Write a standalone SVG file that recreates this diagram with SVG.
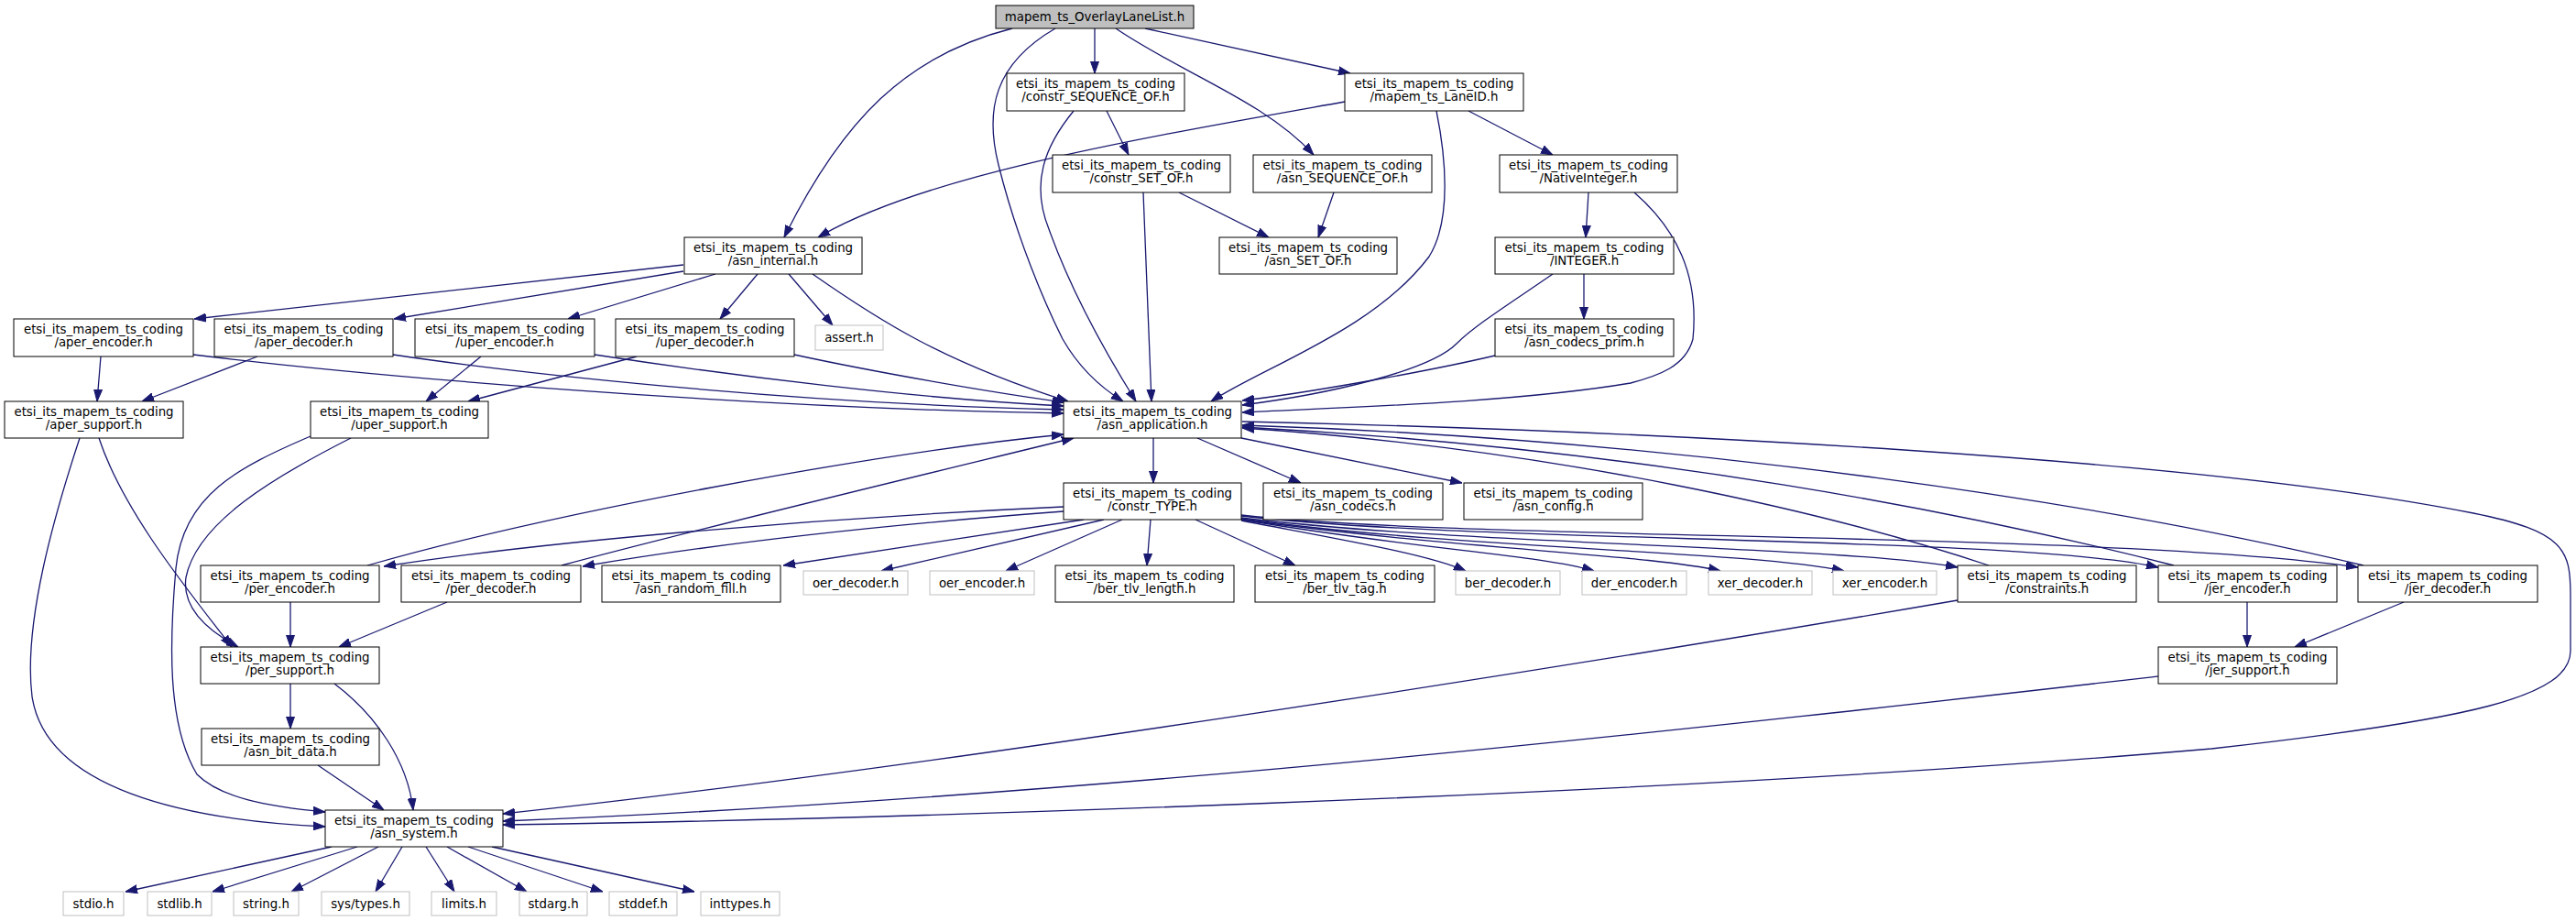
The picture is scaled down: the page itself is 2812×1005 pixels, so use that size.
<svg xmlns="http://www.w3.org/2000/svg" width="2812" height="1005" viewBox="0 0 2812 1005">
<style>
.node rect{fill:#fff;stroke:#000;stroke-width:1}
.ext rect{stroke:#bfbfbf}
.root rect{fill:#bfbfbf}
text{font-family:"DejaVu Sans",sans-serif;font-size:13.33px;text-anchor:middle;fill:#000}
#edges path{fill:none;stroke:#191970;stroke-width:1.3;marker-end:url(#a)}
</style>
<defs>
<marker id="a" markerUnits="userSpaceOnUse" markerWidth="13" markerHeight="10" refX="13" refY="5" orient="auto"><path d="M0,0.5 L13,5 L0,9.5 z" fill="#191970" stroke="#191970" stroke-width="1"/></marker>
</defs>
<rect width="2812" height="1005" fill="#fff"/>
<g id="edges">
<path d="M1195,31 L1195,80"/>
<path d="M1218,31 C1290,80 1380,110 1434,169"/>
<path d="M1250,31 L1474,80"/>
<path d="M1105,31 C990,60 920,130 856,259"/>
<path d="M1152,31 C1085,70 1075,120 1090,180 C1110,260 1140,330 1160,370 C1180,405 1205,425 1226,438"/>
<path d="M1208,121 L1232,169"/>
<path d="M1172,121 C1140,160 1125,200 1145,250 C1170,320 1210,390 1240,438"/>
<path d="M1468,111 C1250,150 1010,190 893,259"/>
<path d="M1603,121 L1695,169"/>
<path d="M1568,121 C1578,170 1585,240 1560,280 C1500,360 1380,400 1322,438"/>
<path d="M1287,210 L1385,259"/>
<path d="M1248,210 L1257,438"/>
<path d="M1456,210 L1439,259"/>
<path d="M1734,210 L1731,259"/>
<path d="M1784,210 C1830,250 1855,300 1848,370 C1840,400 1810,410 1780,418 C1650,440 1450,445 1356,450"/>
<path d="M1729,299 L1729,348"/>
<path d="M1695,299 C1650,330 1610,355 1590,375 C1560,405 1450,430 1356,442"/>
<path d="M1632,388 C1560,405 1420,430 1356,437"/>
<path d="M746,289 L212,348"/>
<path d="M746,296 L430,348"/>
<path d="M781,299 L620,348"/>
<path d="M827,299 L786,348"/>
<path d="M861,299 L909,355"/>
<path d="M887,299 C960,350 1030,395 1166,438"/>
<path d="M110,389 L106,438"/>
<path d="M211,387 C400,410 800,445 1161,451"/>
<path d="M281,389 L155,438"/>
<path d="M429,387 C550,405 850,440 1161,447"/>
<path d="M525,389 L465,438"/>
<path d="M649,387 C800,410 1000,435 1161,443"/>
<path d="M695,389 L511,438"/>
<path d="M867,387 C950,405 1080,428 1162,439"/>
<path d="M108,478 C135,560 210,650 253,706"/>
<path d="M87,478 C60,560 25,680 35,760 C50,860 200,895 355,902"/>
<path d="M383,478 C300,520 215,570 203,630 C198,665 230,690 260,706"/>
<path d="M339,476 C260,510 200,540 192,620 C185,700 182,790 215,845 C240,870 290,880 355,886"/>
<path d="M317,657 L317,706"/>
<path d="M488,657 L370,706"/>
<path d="M317,746 L317,795"/>
<path d="M365,746 C410,780 445,830 451,884"/>
<path d="M347,835 L419,884"/>
<path d="M401,617 C600,560 950,495 1161,474"/>
<path d="M613,617 C750,580 1000,520 1172,478"/>
<path d="M1161,553 C900,565 600,590 419,618"/>
<path d="M1161,558 C1000,570 800,590 636,618"/>
<path d="M1183,567 L855,617"/>
<path d="M1205,567 L962,623"/>
<path d="M1225,567 L1098,623"/>
<path d="M1256,567 L1252,617"/>
<path d="M1305,567 L1414,617"/>
<path d="M1355,568 C1470,590 1560,605 1600,623"/>
<path d="M1355,567 C1550,600 1680,605 1740,623"/>
<path d="M1355,567 C1600,600 1800,605 1878,623"/>
<path d="M1355,566 C1600,600 1900,600 2013,623"/>
<path d="M1355,565 C1600,595 2000,595 2137,619"/>
<path d="M1355,563 C1600,592 2200,585 2356,619"/>
<path d="M1355,562 C1600,590 2300,580 2574,619"/>
<path d="M2171,617 C2000,560 1700,490 1356,467"/>
<path d="M2373,617 C2150,560 1800,490 1356,466"/>
<path d="M2580,617 C2300,550 1850,480 1356,464"/>
<path d="M1356,460 C1800,470 2400,500 2700,560 C2800,580 2806,600 2806,650 L2806,710 C2806,760 2700,785 2414,817 C1800,870 900,895 549,900"/>
<path d="M2137,655 C1700,730 1000,840 549,888"/>
<path d="M2356,738 C1900,790 1200,870 549,896"/>
<path d="M2453,657 L2453,706"/>
<path d="M2624,657 L2505,706"/>
<path d="M1259,478 L1259,527"/>
<path d="M1307,478 L1420,527"/>
<path d="M1355,478 L1596,527"/>
<path d="M362,924 L137,973"/>
<path d="M390,924 L232,973"/>
<path d="M413,924 L318,973"/>
<path d="M439,924 L410,973"/>
<path d="M465,924 L496,973"/>
<path d="M488,924 L575,973"/>
<path d="M511,924 L658,973"/>
<path d="M537,924 L758,973"/>
</g>
<g id="nodes">
<g id="n_main" class="node root"><rect x="1087" y="6" width="216" height="25"/><text x="1195" y="23">mapem_ts_OverlayLaneList.h</text></g>
<g id="n_cso" class="node"><rect x="1099" y="80" width="194" height="41"/><text x="1196" y="95.5">etsi_its_mapem_ts_coding</text><text x="1196" y="109.5">/constr_SEQUENCE_OF.h</text></g>
<g id="n_laneid" class="node"><rect x="1468" y="80" width="195" height="41"/><text x="1565.5" y="95.5">etsi_its_mapem_ts_coding</text><text x="1565.5" y="109.5">/mapem_ts_LaneID.h</text></g>
<g id="n_cset" class="node"><rect x="1149" y="169" width="194" height="41"/><text x="1246" y="184.5">etsi_its_mapem_ts_coding</text><text x="1246" y="198.5">/constr_SET_OF.h</text></g>
<g id="n_aso" class="node"><rect x="1368" y="169" width="195" height="41"/><text x="1465.5" y="184.5">etsi_its_mapem_ts_coding</text><text x="1465.5" y="198.5">/asn_SEQUENCE_OF.h</text></g>
<g id="n_nint" class="node"><rect x="1637" y="169" width="194" height="41"/><text x="1734" y="184.5">etsi_its_mapem_ts_coding</text><text x="1734" y="198.5">/NativeInteger.h</text></g>
<g id="n_aint" class="node"><rect x="747" y="259" width="194" height="40"/><text x="844" y="274.5">etsi_its_mapem_ts_coding</text><text x="844" y="288.5">/asn_internal.h</text></g>
<g id="n_aset" class="node"><rect x="1331" y="259" width="194" height="40"/><text x="1428" y="274.5">etsi_its_mapem_ts_coding</text><text x="1428" y="288.5">/asn_SET_OF.h</text></g>
<g id="n_integer" class="node"><rect x="1632" y="259" width="195" height="40"/><text x="1729.5" y="274.5">etsi_its_mapem_ts_coding</text><text x="1729.5" y="288.5">/INTEGER.h</text></g>
<g id="n_aenc" class="node"><rect x="15" y="348" width="196" height="41"/><text x="113" y="363.5">etsi_its_mapem_ts_coding</text><text x="113" y="377.5">/aper_encoder.h</text></g>
<g id="n_adec" class="node"><rect x="234" y="348" width="195" height="41"/><text x="331.5" y="363.5">etsi_its_mapem_ts_coding</text><text x="331.5" y="377.5">/aper_decoder.h</text></g>
<g id="n_uenc" class="node"><rect x="453" y="348" width="196" height="41"/><text x="551" y="363.5">etsi_its_mapem_ts_coding</text><text x="551" y="377.5">/uper_encoder.h</text></g>
<g id="n_udec" class="node"><rect x="672" y="348" width="195" height="41"/><text x="769.5" y="363.5">etsi_its_mapem_ts_coding</text><text x="769.5" y="377.5">/uper_decoder.h</text></g>
<g id="n_assert" class="node ext"><rect x="890" y="355" width="74" height="27"/><text x="927" y="373">assert.h</text></g>
<g id="n_acp" class="node"><rect x="1632" y="348" width="195" height="41"/><text x="1729.5" y="363.5">etsi_its_mapem_ts_coding</text><text x="1729.5" y="377.5">/asn_codecs_prim.h</text></g>
<g id="n_asup" class="node"><rect x="5" y="438" width="195" height="40"/><text x="102.5" y="453.5">etsi_its_mapem_ts_coding</text><text x="102.5" y="467.5">/aper_support.h</text></g>
<g id="n_usup" class="node"><rect x="339" y="438" width="194" height="40"/><text x="436" y="453.5">etsi_its_mapem_ts_coding</text><text x="436" y="467.5">/uper_support.h</text></g>
<g id="n_app" class="node"><rect x="1161" y="438" width="194" height="40"/><text x="1258" y="453.5">etsi_its_mapem_ts_coding</text><text x="1258" y="467.5">/asn_application.h</text></g>
<g id="n_ctype" class="node"><rect x="1161" y="527" width="194" height="40"/><text x="1258" y="542.5">etsi_its_mapem_ts_coding</text><text x="1258" y="556.5">/constr_TYPE.h</text></g>
<g id="n_codecs" class="node"><rect x="1379" y="527" width="196" height="40"/><text x="1477" y="542.5">etsi_its_mapem_ts_coding</text><text x="1477" y="556.5">/asn_codecs.h</text></g>
<g id="n_config" class="node"><rect x="1598" y="527" width="195" height="40"/><text x="1695.5" y="542.5">etsi_its_mapem_ts_coding</text><text x="1695.5" y="556.5">/asn_config.h</text></g>
<g id="n_penc" class="node"><rect x="219" y="617" width="195" height="40"/><text x="316.5" y="632.5">etsi_its_mapem_ts_coding</text><text x="316.5" y="646.5">/per_encoder.h</text></g>
<g id="n_pdec" class="node"><rect x="438" y="617" width="196" height="40"/><text x="536" y="632.5">etsi_its_mapem_ts_coding</text><text x="536" y="646.5">/per_decoder.h</text></g>
<g id="n_rfill" class="node"><rect x="657" y="617" width="195" height="40"/><text x="754.5" y="632.5">etsi_its_mapem_ts_coding</text><text x="754.5" y="646.5">/asn_random_fill.h</text></g>
<g id="n_oerd" class="node ext"><rect x="877" y="623" width="114" height="26"/><text x="934" y="640.5">oer_decoder.h</text></g>
<g id="n_oere" class="node ext"><rect x="1015" y="623" width="114" height="26"/><text x="1072" y="640.5">oer_encoder.h</text></g>
<g id="n_btl" class="node"><rect x="1152" y="617" width="195" height="40"/><text x="1249.5" y="632.5">etsi_its_mapem_ts_coding</text><text x="1249.5" y="646.5">/ber_tlv_length.h</text></g>
<g id="n_btt" class="node"><rect x="1370" y="617" width="196" height="40"/><text x="1468" y="632.5">etsi_its_mapem_ts_coding</text><text x="1468" y="646.5">/ber_tlv_tag.h</text></g>
<g id="n_berd" class="node ext"><rect x="1589" y="623" width="114" height="26"/><text x="1646" y="640.5">ber_decoder.h</text></g>
<g id="n_dere" class="node ext"><rect x="1727" y="623" width="114" height="26"/><text x="1784" y="640.5">der_encoder.h</text></g>
<g id="n_xerd" class="node ext"><rect x="1865" y="623" width="113" height="26"/><text x="1921.5" y="640.5">xer_decoder.h</text></g>
<g id="n_xere" class="node ext"><rect x="2001" y="623" width="113" height="26"/><text x="2057.5" y="640.5">xer_encoder.h</text></g>
<g id="n_cons" class="node"><rect x="2137" y="617" width="195" height="40"/><text x="2234.5" y="632.5">etsi_its_mapem_ts_coding</text><text x="2234.5" y="646.5">/constraints.h</text></g>
<g id="n_jenc" class="node"><rect x="2356" y="617" width="195" height="40"/><text x="2453.5" y="632.5">etsi_its_mapem_ts_coding</text><text x="2453.5" y="646.5">/jer_encoder.h</text></g>
<g id="n_jdec" class="node"><rect x="2574" y="617" width="196" height="40"/><text x="2672" y="632.5">etsi_its_mapem_ts_coding</text><text x="2672" y="646.5">/jer_decoder.h</text></g>
<g id="n_psup" class="node"><rect x="219" y="706" width="195" height="40"/><text x="316.5" y="721.5">etsi_its_mapem_ts_coding</text><text x="316.5" y="735.5">/per_support.h</text></g>
<g id="n_jsup" class="node"><rect x="2356" y="706" width="195" height="40"/><text x="2453.5" y="721.5">etsi_its_mapem_ts_coding</text><text x="2453.5" y="735.5">/jer_support.h</text></g>
<g id="n_bitd" class="node"><rect x="220" y="795" width="194" height="40"/><text x="317" y="810.5">etsi_its_mapem_ts_coding</text><text x="317" y="824.5">/asn_bit_data.h</text></g>
<g id="n_sys" class="node"><rect x="355" y="884" width="194" height="40"/><text x="452" y="899.5">etsi_its_mapem_ts_coding</text><text x="452" y="913.5">/asn_system.h</text></g>
<g id="n_stdio" class="node ext"><rect x="69" y="973" width="66" height="26"/><text x="102" y="990.5">stdio.h</text></g>
<g id="n_stdlib" class="node ext"><rect x="161" y="973" width="70" height="26"/><text x="196" y="990.5">stdlib.h</text></g>
<g id="n_string" class="node ext"><rect x="255" y="973" width="71" height="26"/><text x="290.5" y="990.5">string.h</text></g>
<g id="n_systypes" class="node ext"><rect x="351" y="973" width="96" height="26"/><text x="399" y="990.5">sys/types.h</text></g>
<g id="n_limits" class="node ext"><rect x="471" y="973" width="71" height="26"/><text x="506.5" y="990.5">limits.h</text></g>
<g id="n_stdarg" class="node ext"><rect x="567" y="973" width="74" height="26"/><text x="604" y="990.5">stdarg.h</text></g>
<g id="n_stddef" class="node ext"><rect x="665" y="973" width="74" height="26"/><text x="702" y="990.5">stddef.h</text></g>
<g id="n_inttypes" class="node ext"><rect x="765" y="973" width="86" height="26"/><text x="808" y="990.5">inttypes.h</text></g>
</g>
</svg>
